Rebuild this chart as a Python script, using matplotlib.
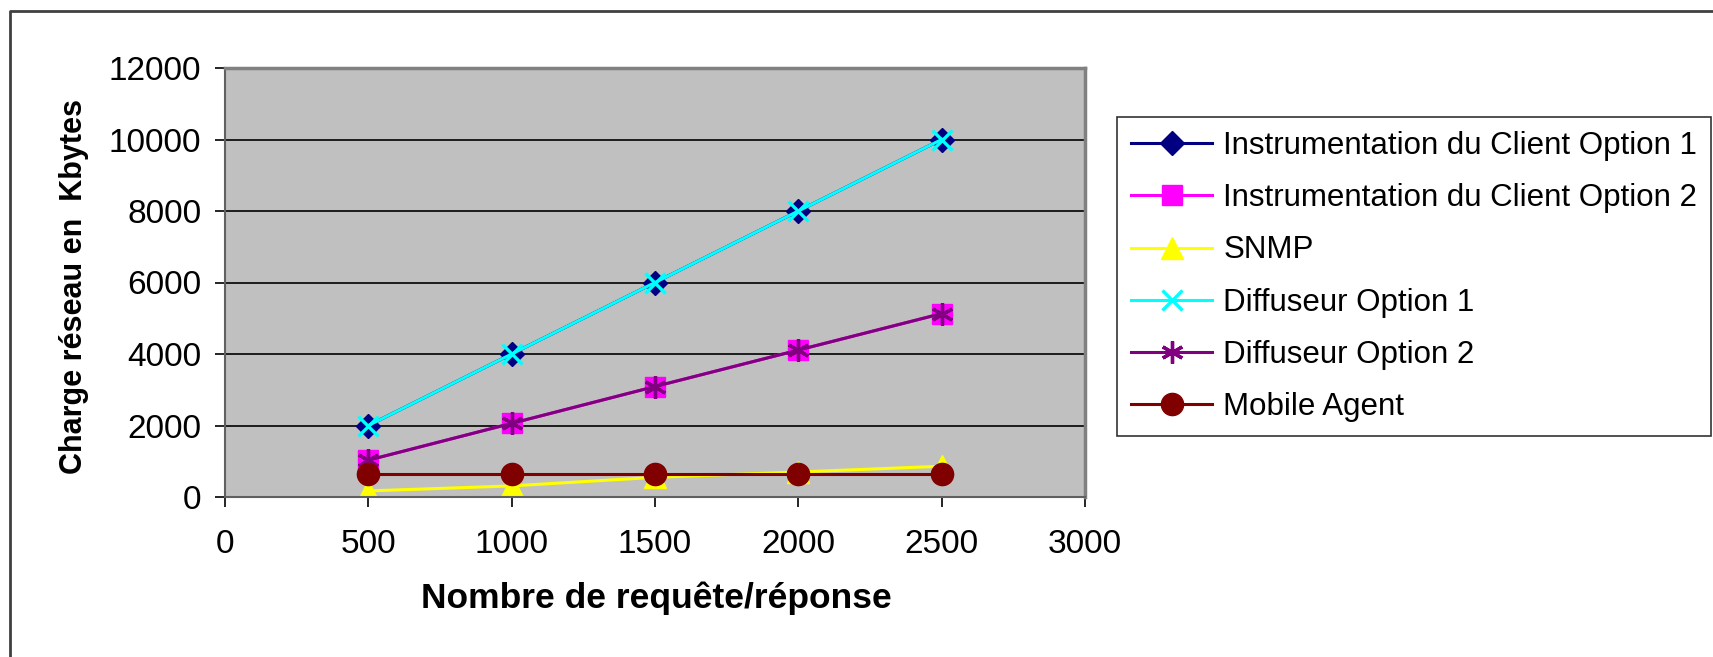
import numpy as np
from matplotlib import pyplot as plt
from matplotlib.lines import Line2D

plt.rcParams['font.family'] = ['Liberation Sans', 'DejaVu Sans']

requetes = [500, 1000, 1500, 2000, 2500]
client_opt1 = [2000, 4000, 6000, 8000, 10000]
client_opt2 = [1030, 2060, 3090, 4110, 5130]
snmp = [170, 310, 550, 700, 860]
diff_opt1 = [2000, 4000, 6000, 8000, 10000]
diff_opt2 = [1030, 2060, 3090, 4110, 5130]
mobile = [650, 650, 650, 650, 650]

labels = ["Instrumentation du Client Option 1", "Instrumentation du Client Option 2",
          "SNMP", "Diffuseur Option 1", "Diffuseur Option 2", "Mobile Agent"]

W, H = 1713, 657
fig = plt.figure(figsize=(W / 100, H / 100), dpi=100)
ax = fig.add_axes([225 / W, 1 - 497 / H, (1085 - 225) / W, (497 - 68) / H])
ax.set_facecolor("#C0C0C0")

lw = 2.2
ax.plot(requetes, client_opt1, color="#000080", marker="D", ms=12, lw=lw, label=labels[0])
ax.plot(requetes, client_opt2, color="#FF00FF", marker="s", ms=14, lw=lw, label=labels[1])
ax.plot(requetes, snmp, color="#FFFF00", marker="^", ms=16, lw=lw, label=labels[2])
ax.plot(requetes, diff_opt1, color="#00FFFF", marker="x", ms=14, mew=2.4, lw=lw, label=labels[3])
ax.plot(requetes, diff_opt2, color="#800080", marker=(6, 2, 0), ms=16, mew=2.4, lw=lw, label=labels[4])
ax.plot(requetes, mobile, color="#800000", marker="o", ms=16, lw=lw, label=labels[5])

ax.set_xlim(0, 3000)
ax.set_ylim(0, 12000)
ax.set_xticks(np.arange(0, 3001, 500))
ax.set_yticks(np.arange(0, 12001, 2000))
ax.yaxis.grid(True, color="black", lw=1.2)
ax.set_axisbelow(True)
ax.tick_params(direction="out", length=7, width=1.2, labelsize=24, colors="black")
ax.tick_params(axis="y", pad=10)
ax.tick_params(axis="x", pad=16)
for s in ["top", "right"]:
    ax.spines[s].set_color("#808080")
    ax.spines[s].set_linewidth(2.5)
for s in ["left", "bottom"]:
    ax.spines[s].set_color("#606060")
    ax.spines[s].set_linewidth(1.5)

fig.text(74 / W, 1 - 287 / H, "Charge réseau en  Kbytes", rotation=90, fontsize=22,
         fontweight="bold", ha="center", va="center")
fig.text(656 / W, 1 - 598 / H, "Nombre de requête/réponse", fontsize=25.5,
         fontweight="bold", ha="center", va="center")

leg = fig.legend(loc="upper left", bbox_to_anchor=(1117 / W, 1 - 117 / H), fontsize=22.5,
                 frameon=True, fancybox=False, edgecolor="black", handlelength=2.6,
                 labelspacing=0.71, borderpad=0.45, handletextpad=0.35, borderaxespad=0)
leg.get_frame().set_linewidth(1.2)

# outer chart border (only top and left visible)
fig.add_artist(Line2D([10 / W, 10 / W, 1], [0, 1 - 11 / H, 1 - 11 / H],
                      transform=fig.transFigure, color="#404040", lw=2))

fig.savefig("out.png", dpi=100, facecolor="white")
